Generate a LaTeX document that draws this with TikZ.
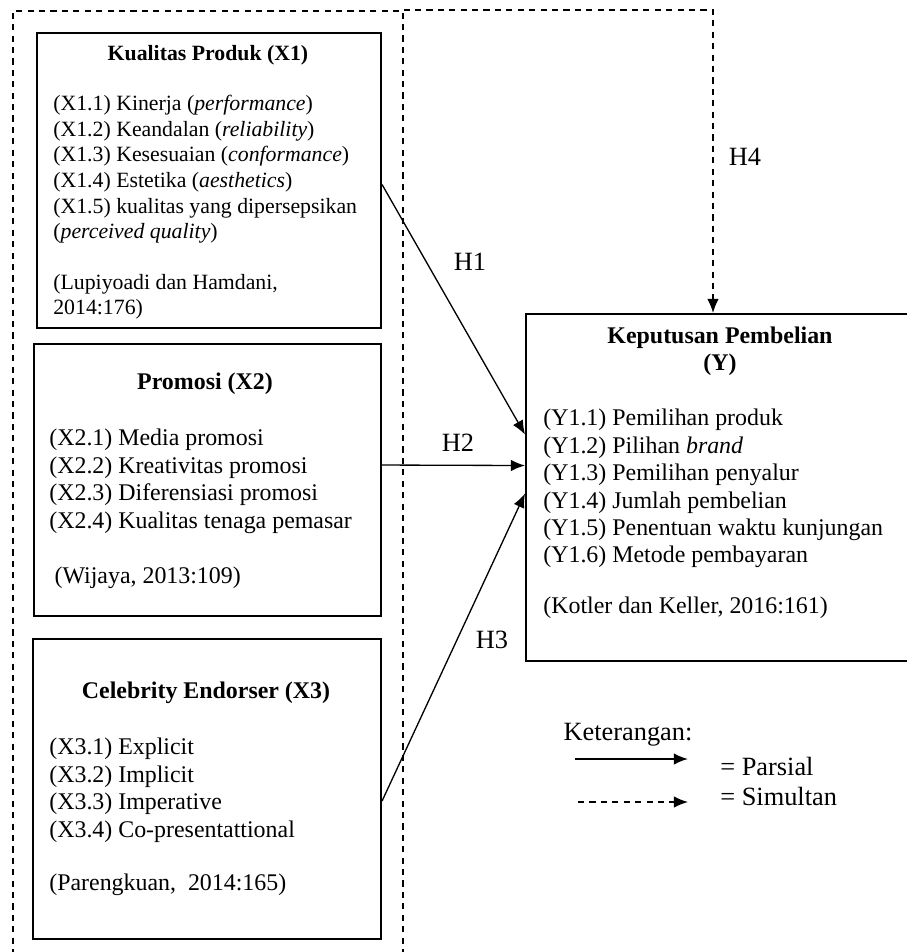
\documentclass[tikz,border=0pt]{standalone}
\usepackage{fontspec}
\setmainfont{Liberation Serif}
\usetikzlibrary{positioning, arrows.meta, calc}
\tikzset{
    box/.style={draw, line width=1.2pt, inner sep=0pt, anchor=north west}, % the variable boxes
    frame/.style={draw, dashed, line width=0.9pt, dash pattern=on 3.5pt off 3pt, inner sep=0pt, anchor=north west}, % outer dashed frame
    ttl/.style={inner sep=0pt, align=center, font=\fontsize{13.6}{15.4}\selectfont\bfseries}, % box titles
    txt/.style={inner sep=0pt, align=left, anchor=north west, font=\fontsize{13.6}{15.6}\selectfont}, % indicator lists
    lbl/.style={inner sep=0pt, font=\fontsize{15}{17}\selectfont}, % arrow labels
    >={Latex[length=8pt, width=6.5pt]}, % filled arrow heads
    par/.style={->, line width=0.75pt}, % partial effect
    sim/.style={->, line width=0.75pt, dashed, dash pattern=on 3.5pt off 3pt}, % simultaneous effect
}
\begin{document}
\begin{tikzpicture}[x=0.02cm, y=-0.02cm]
\useasboundingbox (0,0) rectangle (906,952);
\node[frame, minimum width=7.8cm, minimum height=20cm] (all) at (12,10) {};
\node[box, minimum width=6.88cm, minimum height=5.9cm] (x1) at (36,32) {};
\node[box, minimum width=6.94cm, minimum height=5.44cm] (x2) at (33,343) {};
\node[box, minimum width=6.96cm, minimum height=6cm] (x3) at (32,638) {};
\node[box, minimum width=8cm, minimum height=6.94cm] (y) at (525,313) {};
% titles
\node[ttl, font=\fontsize{12.4}{14}\selectfont\bfseries] (x1t) at (208,55) {Kualitas Produk (X1)};
\node[ttl] (x2t) at (205,384) {Promosi (X2)};
\node[ttl] (x3t) at (206,693) {Celebrity Endorser (X3)};
\node[ttl] (yt) at (720,351) {Keputusan Pembelian\\(Y)};
% indicators
\node[txt, font=\fontsize{12.4}{14.6}\selectfont] (x1i) at (53,95) {(X1.1) Kinerja (\textit{performance})\\
(X1.2) Keandalan (\textit{reliability})\\
(X1.3) Kesesuaian (\textit{conformance})\\
(X1.4) Estetika (\textit{aesthetics})\\
(X1.5) kualitas yang dipersepsikan\\
(\textit{perceived quality})\\[14pt]
(Lupiyoadi dan Hamdani,\\
2014:176)};
\node[txt] (x2i) at (49,429) {(X2.1) Media promosi\\
(X2.2) Kreativitas promosi\\
(X2.3) Diferensiasi promosi\\
(X2.4) Kualitas tenaga pemasar\\[16pt]
\hspace{3pt}(Wijaya, 2013:109)};
\node[txt] (x3i) at (49,738) {(X3.1) Explicit\\
(X3.2) Implicit\\
(X3.3) Imperative\\
(X3.4) Co-presentattional\\[15pt]
(Parengkuan,\ \ 2014:165)};
\node[txt] (yi) at (543,409) {(Y1.1) Pemilihan produk\\
(Y1.2) Pilihan \textit{brand}\\
(Y1.3) Pemilihan penyalur\\
(Y1.4) Jumlah pembelian\\
(Y1.5) Penentuan waktu kunjungan\\
(Y1.6) Metode pembayaran\\[13pt]
(Kotler dan Keller, 2016:161)};
% hypotheses
\coordinate (h4c) at (713,10);
\draw[par] ($(x1.east)+(0,4)$) -- ($(y.west)+(0,-53)$);
\draw[par] ($(x2.east)+(0,-15)$) -- ($(y.west)+(0,-22)$);
\draw[par] ($(x3.east)+(0,12)$) -- ($(y.west)+(0,6)$);
\draw[sim] (all.north east) -- (h4c) -- (h4c |- y.north);
\node[lbl] (h1) at (470,262) {H1};
\node[lbl] (h2) at (458,443) {H2};
\node[lbl] (h3) at (492,640) {H3};
\node[lbl] (h4) at (745,157) {H4};
% legend
\node[lbl] (ket) at (628,735) {Keterangan:};
\coordinate (ps) at (575,759);
\coordinate (pe) at (688,759);
\coordinate (ss) at (578,802);
\coordinate (se) at (688,802);
\draw[par, line width=1pt] (ps) -- (pe);
\draw[sim] (ss) -- (se);
\node[lbl, anchor=west] (pl) at (720,766) {= Parsial};
\node[lbl, anchor=west] (sl) at (720,796) {= Simultan};
\end{tikzpicture}
\end{document}
